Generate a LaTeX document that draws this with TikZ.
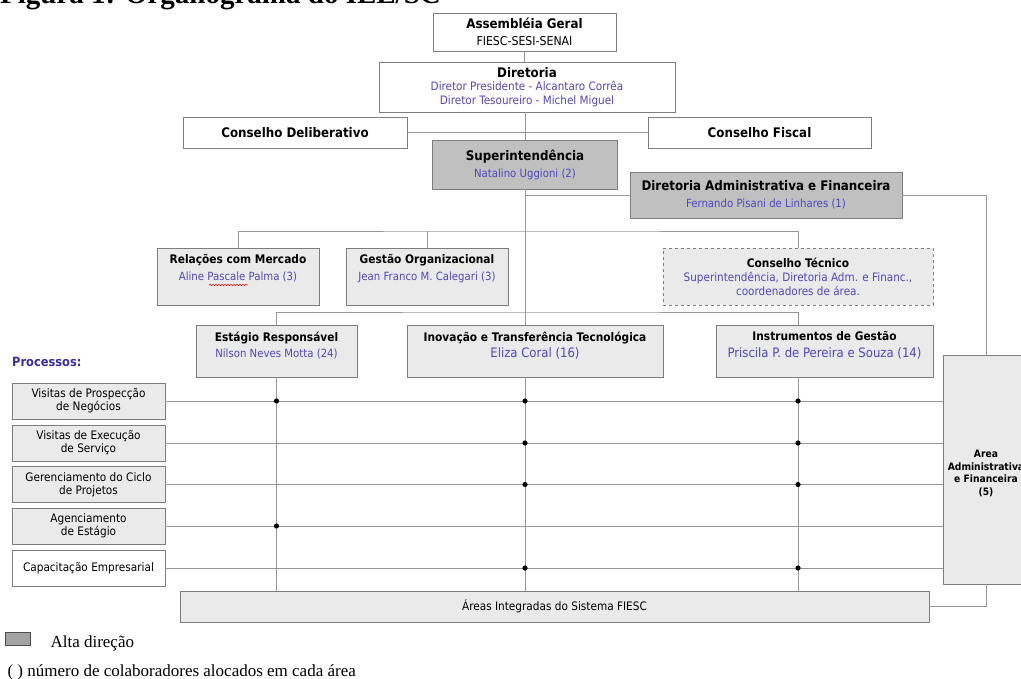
\documentclass[tikz,border=0pt]{standalone}
\usepackage{fontspec}
\setmainfont{DejaVu Sans Condensed}
\newfontfamily\legenda{Liberation Serif}
\usetikzlibrary{positioning,decorations.pathmorphing}

\definecolor{nome}{RGB}{80,70,190}
\definecolor{proc}{RGB}{55,45,165}
\definecolor{linha}{RGB}{150,150,150}
\definecolor{borda}{RGB}{125,125,125}
\definecolor{alta}{RGB}{192,192,192}
\definecolor{claro}{RGB}{234,234,234}

\newcommand{\tit}[1]{{\fontsize{13.2}{15}\selectfont\bfseries #1}}
\newcommand{\sub}[1]{{\fontsize{11.8}{14}\selectfont\bfseries #1}}
\newcommand{\nom}[1]{{\fontsize{11.3}{14}\selectfont\color{nome}#1}}

\tikzset{
  caixa/.style={draw=borda, line width=0.8pt, fill=white, inner sep=2pt, align=center, font=\fontsize{12.2}{17}\selectfont},
  chefe/.style={caixa, fill=alta},
  area/.style={caixa, fill=claro},
  processo/.style={caixa, fill=claro, minimum width=153, minimum height=36, font=\fontsize{11.7}{13}\selectfont},
  inbox/.style={anchor=north, align=center, inner sep=3pt, yshift=-4pt, font=\fontsize{11}{16.5}\selectfont},
  liga/.style={draw=linha, line width=0.8pt},
  ponto/.style={fill=black},
  legtext/.style={anchor=base west, font=\legenda\fontsize{17}{20}\selectfont},
}

\begin{document}
\begin{tikzpicture}[x=1pt,y=-1pt]
	\useasboundingbox (0,0) rectangle (1021,679);
	\node[anchor=base west, inner sep=0, font=\legenda\bfseries\fontsize{29}{32}\selectfont] (0) at (0,3.5) {Figura 1: Organograma do IEL/SC};
	\node[caixa, minimum width=183, minimum height=38] (1) at (524.5,32) {\tit{Assembléia Geral}\\FIESC-SESI-SENAI};
	\node[caixa, minimum width=296, minimum height=50, font=\fontsize{11.6}{13.5}\selectfont] (2) at (527,87) {\tit{Diretoria}\\{\color{nome}Diretor Presidente - Alcantaro Corrêa}\\{\color{nome}Diretor Tesoureiro - Michel Miguel}};
	\node[caixa, minimum width=224, minimum height=31] (3) at (295,132.5) {\tit{Conselho Deliberativo}};
	\node[caixa, minimum width=223, minimum height=31] (4) at (759.5,132.5) {\tit{Conselho Fiscal}};
	\node[chefe, minimum width=185, minimum height=49] (5) at (525,164.5) {\tit{Superintendência}\\\nom{Natalino Uggioni (2)}};
	\node[chefe, minimum width=272, minimum height=46] (6) at (766,195) {\tit{Diretoria Administrativa e Financeira}\\\nom{Fernando Pisani de Linhares (1)}};
	\node[area, minimum width=162, minimum height=57, label={[inbox]north:{\sub{Relações com Mercado}\\\nom{Aline Pascale Palma (3)}}}] (7) at (238,276.5) {};
	\node[area, minimum width=162, minimum height=57, label={[inbox]north:{\sub{Gestão Organizacional}\\\nom{Jean Franco M. Calegari (3)}}}] (8) at (427,276.5) {};
	\node[area, dashed, minimum width=270, minimum height=57, font=\fontsize{11.6}{14}\selectfont] (9) at (798,276.5) {\sub{Conselho Técnico}\\{\color{nome}Superintendência, Diretoria Adm. e Financ.,}\\{\color{nome}coordenadores de área.}};
	\node[area, minimum width=161, minimum height=52, label={[inbox]north:{\sub{Estágio Responsável}\\\nom{Nilson Neves Motta (24)}}}] (10) at (276.5,351) {};
	\node[area, minimum width=256, minimum height=52, label={[inbox]north:{\sub{Inovação e Transferência Tecnológica}\\{\fontsize{13}{15}\selectfont\color{nome}Eliza Coral (16)}}}] (11) at (535,351) {};
	\node[area, minimum width=217, minimum height=52, label={[inbox]north:{\sub{Instrumentos de Gestão}\\{\fontsize{13}{15}\selectfont\color{nome}Priscila P. de Pereira e Souza (14)}}}] (12) at (824.5,351) {};
	\node[area, minimum width=86, minimum height=229, label={[align=center, yshift=-4pt, font=\bfseries\fontsize{10.2}{12.5}\selectfont]center:{Area\\Administrativa\\e Financeira\\(5)}}] (13) at (986,469.5) {};
	\node[area, minimum width=749, minimum height=31, font=\fontsize{11.7}{13}\selectfont] (14) at (554.5,606.5) {Áreas Integradas do Sistema FIESC};
	\node[anchor=west, inner sep=0, font=\bfseries\fontsize{12.7}{14}\selectfont, text=proc] (p) at (12,362) {Processos:};
	\node[processo] (15) at (88.5,401) {Visitas de Prospecção\\de Negócios};
	\node[processo] (16) at (88.5,443) {Visitas de Execução\\de Serviço};
	\node[processo] (17) at (88.5,484.5) {Gerenciamento do Ciclo\\de Projetos};
	\node[processo] (18) at (88.5,526) {Agenciamento\\de Estágio};
	\node[processo, fill=white] (19) at (88.5,568) {Capacitação Empresarial};
	\node[draw=black!70, fill=alta!85!black, line width=0.8pt, minimum width=25, minimum height=13, inner sep=0] (20) at (17.5,638.5) {};
	\node[legtext] (21) at (47,647) {Alta direção};
	\node[legtext] (22) at (4,676) {( ) número de colaboradores alocados em cada área};
	\coordinate (r2) at (525,231);
	\coordinate (r3) at (525,312);
	\draw[liga] (1.south) -- (1.south |- 2.north);
	\draw[liga] (5.north |- 2.south) -- (5.north);
	\draw[liga] (3) -- (4);
	\draw[liga] (5.south) -- (r3);
	\draw[liga] (6.west) -- (6.west -| r3);
	\draw[liga] (6.east) -| (13.north);
	\draw[liga] (7.north) |- (r2) -| (9.north);
	\draw[liga] (8.north) -- (8.north |- r2);
	\draw[liga] (10.north) |- (r3) -| (9 |- 12.north);
	\draw[liga] (r3) -- (r3 |- 11.north);
	\foreach \i in {15,...,19}
		\draw[liga] (\i.east) -- (\i.east -| 13.west);
	\foreach \c in {10,r3,9}
		\draw[liga] (\c |- 10.south) -- (\c |- 14.north);
	\draw[liga] (13.south) |- (14.east);
	\foreach \p/\c in {15/10,15/r3,15/9,16/r3,16/9,17/r3,17/9,18/10,19/r3,19/9}
		\fill[ponto] (\p.east -| \c) circle (2.6);
	\draw[red, line width=0.5pt, decorate, decoration={snake, amplitude=0.8pt, segment length=3pt}] (209,285) -- (248,285);
\end{tikzpicture}
\end{document}
